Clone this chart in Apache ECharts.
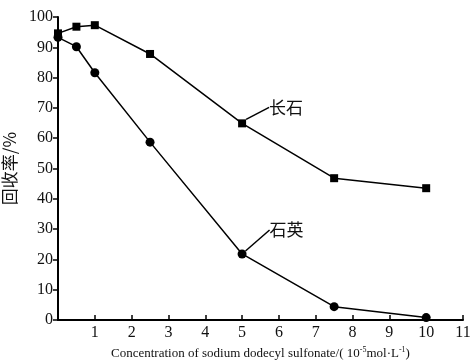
<!DOCTYPE html>
<html>
<head>
<meta charset="utf-8">
<script src="https://cdn.jsdelivr.net/npm/echarts@6/dist/echarts.min.js"></script>
<style>
  html, body { margin: 0; padding: 0; background: #fff; }
  #chart { width: 471px; height: 360px; }
</style>
</head>
<body>
<div id="chart"></div>
<script>
// 浓度 (10^-5 mol/L)
const concentration = [0, 0.5, 1, 2.5, 5, 7.5, 10];
// 长石 回收率
const feldspar = [94.6, 96.8, 97.3, 87.8, 64.9, 46.8, 43.5];
// 石英 回收率
const quartz = [93.3, 90.2, 81.6, 58.7, 21.8, 4.4, 0.8];

const labelIndex = 4; // 标注放在 x=5 的点上

const serif = '"Liberation Serif", "Times New Roman", serif';
const cjk = '"Noto Sans CJK SC", sans-serif';

function makeData(values, name) {
    return concentration.map((x, i) => {
        const item = { value: [x, values[i]] };
        if (i === labelIndex) {
            item.label = {
                show: true,
                formatter: name,
                position: 'right',
                fontFamily: cjk,
                fontSize: 17,
                color: '#111'
            };
            item.labelLine = { show: true, lineStyle: { color: '#000', width: 1.5 } };
        }
        return item;
    });
}

const chart = echarts.init(document.getElementById('chart'));

const option = {
    animation: false,
    backgroundColor: '#fff',
    grid: { left: 58, right: 8, top: 17, bottom: 40, outerBoundsMode: 'none', containLabel: false },
    xAxis: {
        type: 'value',
        min: 0,
        max: 11,
        interval: 1,
        name: '{t|Concentration of sodium dodecyl sulfonate/( 10}{s|-5}{t|mol·L}{s|-1}{t|)}',
        nameLocation: 'middle',
        nameGap: 17,
        nameTextStyle: {
            rich: {
                t: { fontFamily: serif, fontSize: 13, color: '#111', verticalAlign: 'bottom' },
                s: { fontFamily: serif, fontSize: 8, color: '#111', verticalAlign: 'top', padding: [0, 0, 6, 0] }
            }
        },
        axisLine: { lineStyle: { color: '#000', width: 2 } },
        axisTick: { inside: true, length: 5, lineStyle: { color: '#000', width: 1.5 } },
        axisLabel: {
            fontFamily: serif, fontSize: 16, color: '#111', margin: 5,
            formatter: v => (v === 0 ? '' : v)
        },
        splitLine: { show: false }
    },
    yAxis: {
        type: 'value',
        min: 0,
        max: 100,
        interval: 10,
        name: '回收率/%',
        nameLocation: 'middle',
        nameGap: 34,
        nameTextStyle: { fontFamily: cjk, fontSize: 17, color: '#111' },
        axisLine: { show: true, lineStyle: { color: '#000', width: 2 } },
        axisTick: { show: true, length: 5, lineStyle: { color: '#000', width: 1.5 } },
        axisLabel: { fontFamily: serif, fontSize: 16, color: '#111', margin: 5 },
        splitLine: { show: false }
    },
    series: [
        {
            name: '长石',
            type: 'line',
            data: makeData(feldspar, '长石'),
            symbol: 'rect',
            symbolSize: 8,
            itemStyle: { color: '#000' },
            lineStyle: { color: '#000', width: 1.5 },
            labelLayout: { dx: 18, dy: -16 }
        },
        {
            name: '石英',
            type: 'line',
            data: makeData(quartz, '石英'),
            symbol: 'circle',
            symbolSize: 9,
            itemStyle: { color: '#000' },
            lineStyle: { color: '#000', width: 1.5 },
            labelLayout: { dx: 18, dy: -24 }
        }
    ]
};

chart.setOption(option);
</script>
</body>
</html>
